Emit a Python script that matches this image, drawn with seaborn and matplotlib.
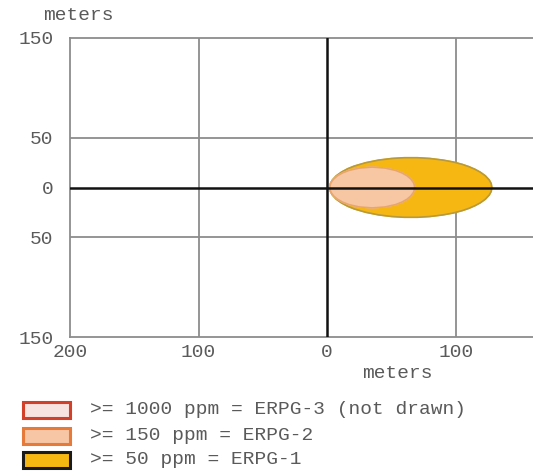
import numpy as np
import pandas as pd
import matplotlib.pyplot as plt
from matplotlib.patches import Rectangle
import seaborn as sns

# threat zone outlines: downwind distance (m) and half crosswind width (m)
erpg1_x = [2, 2.5, 4, 7, 11, 16, 21, 30, 40, 50, 60, 70, 80, 90, 98, 105, 110, 115, 119, 123, 126, 127.5, 128]
erpg1_w = [0, 4, 7.5, 11.7, 15.4, 18.9, 21.5, 24.9, 27.5, 29.1, 29.9, 29.9, 29.1, 27.5, 25.6, 23.2, 21, 18.2, 15.4, 11.7, 7.5, 4, 0]
erpg2_x = [2, 2.4, 3, 5, 8, 12, 17, 25, 35, 45, 53, 58, 62, 65, 67, 67.6, 68]
erpg2_w = [0, 3, 5, 8.5, 11.8, 14.7, 17.2, 19.5, 20.5, 19.5, 17.2, 14.7, 11.8, 8.5, 5, 3, 0]

xticks = [-200, -100, 0, 100]
xtick_labels = ['200', '100', '0', '100']
yticks = [150, 50, 0, -50, -150]
ytick_labels = ['150', '50', '0', '50', '150']

legend_labels = ['>= 1000 ppm = ERPG-3 (not drawn)',
                 '>= 150 ppm = ERPG-2',
                 '>= 50 ppm = ERPG-1']
legend_fill = ['#f7e3df', '#f6c6a5', '#f6b712']
legend_edge = ['#d2402a', '#e57a3a', '#1a1a1a']

def outline(xs, ws):
    # closed loop: upper edge out, lower edge back
    x = list(xs) + list(xs[::-1])
    y = list(ws) + [-v for v in ws[::-1]]
    return pd.DataFrame({'x': x, 'y': y})

sns.set_style('white')
plt.rcParams['font.family'] = ['Liberation Mono', 'DejaVu Sans Mono']
txt = '#5a5a5a'
grid = '#8c8c8c'
fs = 14

fig = plt.figure(figsize=(5.33, 4.72), dpi=100)
ax = fig.add_axes([70/533, 135/472, 463/533, 299/472])

# grid and the two black axes through the source
for v in [-100, 100]:
    ax.axvline(v, color=grid, lw=1.3, zorder=1)
for v in [-50, 50]:
    ax.axhline(v, color=grid, lw=1.3, zorder=1)

# ERPG-1 (yellow) then ERPG-2 (orange) on top
z1 = outline(erpg1_x, erpg1_w)
ax.fill(z1['x'], z1['y'], color='#f6b712', zorder=2)
sns.lineplot(data=z1, x='x', y='y', sort=False, estimator=None, color='#b89a3a', lw=1.2, ax=ax, zorder=3)
z2 = outline(erpg2_x, erpg2_w)
ax.fill(z2['x'], z2['y'], color='#f7c7a4', zorder=4)
sns.lineplot(data=z2, x='x', y='y', sort=False, estimator=None, color='#e8a66e', lw=1.2, ax=ax, zorder=5)

ax.axvline(0, color='#111111', lw=1.8, zorder=6)
ax.axhline(0, color='#111111', lw=1.8, zorder=6)

ax.set_xlim(-200, 160)
ax.set_ylim(-150, 150)
ax.set_xticks(xticks)
ax.set_xticklabels(xtick_labels)
ax.set_yticks(yticks)
ax.set_yticklabels(ytick_labels)
ax.tick_params(length=0, labelsize=fs, labelcolor=txt)
ax.tick_params(axis='x', pad=5)
ax.tick_params(axis='y', pad=12)
ax.set_xlabel('')
ax.set_ylabel('')
for s in ['left', 'top', 'bottom']:
    ax.spines[s].set_color(grid)
    ax.spines[s].set_linewidth(1.3)
ax.spines['right'].set_visible(False)

fig.text(78/533, 1 - 15/472, 'meters', ha='center', va='center', fontsize=fs, color=txt)
fig.text(397/533, 1 - 373/472, 'meters', ha='center', va='center', fontsize=fs, color=txt)

# legend boxes and texts
rows = [410, 436, 460]
for lab, fc, ec, yc in zip(legend_labels, legend_fill, legend_edge, rows):
    fig.patches.append(Rectangle((23/533, 1 - (yc + 8)/472), 47/533, 16/472,
                                 transform=fig.transFigure, facecolor=fc,
                                 edgecolor=ec, lw=2.2))
    fig.text(90/533, 1 - yc/472, lab, ha='left', va='center', fontsize=fs, color=txt)

plt.savefig('out.png', dpi=100)
